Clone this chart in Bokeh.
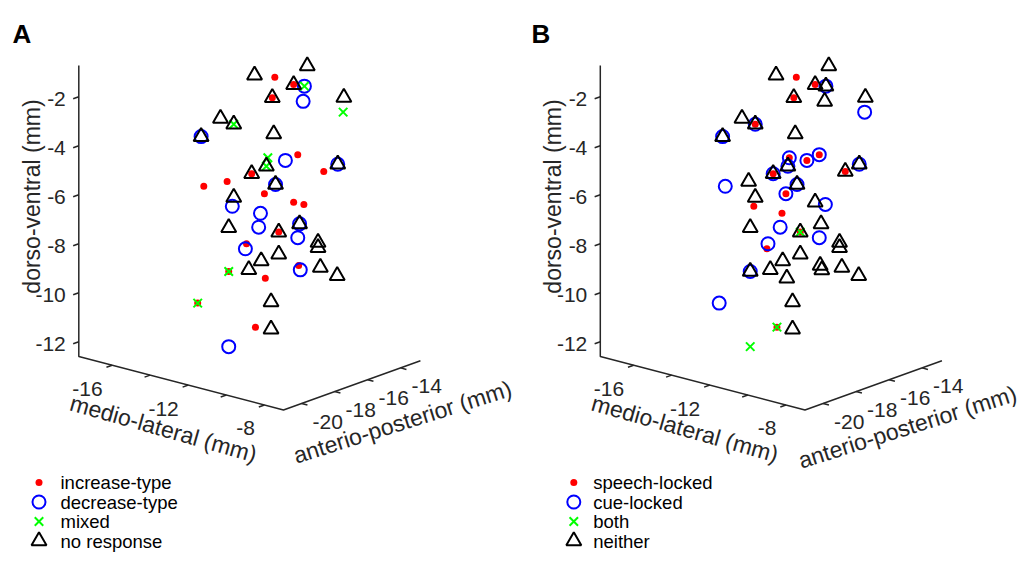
import numpy as np
from bokeh.plotting import figure
from bokeh.models import Range1d
from bokeh.embed import file_html
from bokeh.resources import INLINE
from bokeh.core.properties import value

# ---------------- data: electrode locations (mm) ----------------
ML = [-12.22, -10.56, -10.99, -11.66, -9.41, -13.29, -12.87, -13.90, -11.62, -11.85,
      -12.31, -11.56, -9.60, -12.87, -13.03, -11.46, -10.80, -10.22, -10.22, -11.46,
      -12.01, -12.40, -10.15, -9.62, -11.70, -11.70, -11.58, -10.86, -10.04, -13.08,
      -13.82, -11.91, -10.99, -10.67, -12.47, -10.83, -13.03, -11.88, -14.01, -12.19,
      -10.65, -10.69, -11.25, -12.92, -12.03, -12.09, -10.86, -12.51, -10.78, -13.03,
      -9.43, -11.80]
AP = [-16.83, -15.55, -15.88, -16.40, -14.66, -17.66, -17.34, -18.13, -16.36, -16.54,
      -16.90, -16.32, -14.81, -17.34, -17.46, -16.24, -15.74, -15.29, -15.29, -16.24,
      -16.67, -16.97, -15.23, -14.82, -16.43, -16.43, -16.34, -15.78, -15.15, -17.50,
      -18.06, -16.59, -15.88, -15.63, -17.03, -15.76, -17.46, -16.57, -18.21, -16.81,
      -15.62, -15.65, -16.08, -17.37, -16.69, -16.73, -15.78, -17.05, -15.72, -17.46,
      -14.68, -16.51]
DV = [-1.03, -0.62, -1.39, -1.94, -1.89, -2.81, -3.04, -3.56, -3.42, -4.74,
      -5.05, -5.48, -4.62, -6.03, -7.26, -7.42, -7.07, -7.82, -8.03, -8.32,
      -8.60, -8.97, -8.84, -9.17, -10.27, -11.39, -1.10, -4.25, -4.92, -5.38,
      -5.59, -5.86, -6.19, -6.28, -7.91, -8.77, -9.05, -9.31, -10.36, -11.31,
      -1.45, -2.07, -4.49, -6.39, -6.66, -7.23, -7.64, -8.12, -8.95, -12.12,
      -2.49, -4.39]

# panel A categories (1-based location numbers)
A_INCREASE = [27, 3, 4, 28, 29, 11, 30, 31, 32, 33, 34, 16, 35, 36, 37, 38, 39, 40]
A_DECREASE = [41, 42, 8, 43, 13, 12, 44, 45, 46, 17, 47, 48, 49, 50]
A_MIXED = [41, 51, 7, 52, 10, 37, 39]
A_NONE = [1, 2, 3, 4, 5, 6, 7, 8, 9, 10, 11, 12, 13, 14, 15, 16, 17, 18, 19, 20,
          21, 22, 23, 24, 25, 26]
# panel B categories
B_SPEECH = [27, 3, 4, 7, 52, 43, 28, 11, 29, 32, 44, 45, 16, 48, 40]
B_CUE = [41, 51, 7, 8, 52, 43, 28, 10, 11, 13, 12, 31, 32, 34, 46, 47, 35, 37, 39]
B_BOTH = [16, 40, 50]
B_NEITHER = [1, 2, 3, 41, 4, 42, 5, 6, 7, 8, 9, 10, 11, 13, 29, 30, 12, 14, 33, 15,
             17, 16, 18, 19, 20, 21, 22, 37, 36, 49, 23, 24, 38, 25, 26]

A_LABELS = ["increase-type", "decrease-type", "mixed", "no response"]
B_LABELS = ["speech-locked", "cue-locked", "both", "neither"]

ML_LIM = (-17.75, -7.0)
AP_LIM = (-21.1, -12.8)
DV_LIM = (-12.6, -0.72)
DV_TICKS = [-12, -10, -8, -6, -4, -2]
ML_TICKS = [-16, -14, -12, -10, -8]
ML_TICKLABELS = {-16: "-16", -12: "-12", -8: "-8"}
AP_TICKS = [-20, -18, -16, -14]

# ---------------- view (orthographic projection) ----------------
X0, Y0 = 78.3, 356.0
KX_ML, KY_ML = 19.04, 4.97
KX_AP, KY_AP = 16.5, 5.92
K_DV = 24.5
PANEL_DX = [0.0, 521.5]

AXC = "#262626"
FONT = value("Liberation Sans")


def project(ml, ap, dv, dx):
    ml = np.asarray(ml, float); ap = np.asarray(ap, float); dv = np.asarray(dv, float)
    x = X0 + dx + (ml - ML_LIM[0]) * KX_ML + (ap - AP_LIM[0]) * KX_AP
    y = Y0 + (ml - ML_LIM[0]) * KY_ML - (ap - AP_LIM[0]) * KY_AP - (dv - DV_LIM[0]) * K_DV
    return x, y


p = figure(width=1020, height=552, x_range=Range1d(0, 1020), y_range=Range1d(552, 0),
           output_backend="svg", toolbar_location=None, min_border=0,
           x_axis_location=None, y_axis_location=None)
p.grid.visible = False
p.outline_line_color = None
p.background_fill_color = "white"
p.border_fill_color = "white"

ml_arr = np.array(ML); ap_arr = np.array(AP); dv_arr = np.array(DV)

TICK_LEN = 6.0
ap_dir = np.array([KX_AP, -KY_AP]); ap_dir = ap_dir / np.hypot(*ap_dir)
ml_dir = np.array([KX_ML, KY_ML]); ml_dir = ml_dir / np.hypot(*ml_dir)


def draw_panel(dx, groups, labels, letter, letter_x, leg_mx, leg_tx, ap_title_pos):
    # axis lines
    cx, cy = project([ML_LIM[0], ML_LIM[0], ML_LIM[1], ML_LIM[1]],
                     [AP_LIM[0], AP_LIM[0], AP_LIM[0], AP_LIM[1]],
                     [DV_LIM[1], DV_LIM[0], DV_LIM[0], DV_LIM[0]], dx)
    p.line(list(cx), list(cy), line_color=AXC, line_width=1.5)

    # dv ticks (outward, -AP direction)
    tx, ty = project([ML_LIM[0]] * len(DV_TICKS), [AP_LIM[0]] * len(DV_TICKS), DV_TICKS, dx)
    p.segment(tx, ty, tx - ap_dir[0] * TICK_LEN, ty - ap_dir[1] * TICK_LEN,
              line_color=AXC, line_width=1.5)
    p.text(tx - 13, ty + 2, text=[str(t) for t in DV_TICKS], text_font=FONT,
           text_font_size=value("21px"), text_color=AXC, text_align="right",
           text_baseline="middle")

    # ml ticks
    mx, my = project(ML_TICKS, [AP_LIM[0]] * len(ML_TICKS), [DV_LIM[0]] * len(ML_TICKS), dx)
    p.segment(mx, my, mx - ap_dir[0] * TICK_LEN, my - ap_dir[1] * TICK_LEN,
              line_color=AXC, line_width=1.5)
    lab_idx = [i for i, t in enumerate(ML_TICKS) if t in ML_TICKLABELS]
    p.text(mx[lab_idx] - 9.5, my[lab_idx] + 23.5,
           text=[ML_TICKLABELS[ML_TICKS[i]] for i in lab_idx], text_font=FONT,
           text_font_size=value("21px"), text_color=AXC, text_align="right",
           text_baseline="middle")

    # ap ticks
    ax_, ay_ = project([ML_LIM[1]] * len(AP_TICKS), AP_TICKS, [DV_LIM[0]] * len(AP_TICKS), dx)
    p.segment(ax_, ay_, ax_ + ml_dir[0] * TICK_LEN, ay_ + ml_dir[1] * TICK_LEN,
              line_color=AXC, line_width=1.5)
    p.text(ax_ + 26, ay_ + 18.5, text=[str(t) for t in AP_TICKS], text_font=FONT,
           text_font_size=value("21px"), text_color=AXC, text_align="center",
           text_baseline="middle")

    # axis titles
    p.text([31 + dx], [196], text=["dorso-ventral (mm)"], angle=np.pi / 2, text_font=FONT,
           text_font_size=value("23px"), text_color=AXC, text_align="center",
           text_baseline="middle")
    p.text([163 + dx], [428], text=["medio-lateral (mm)"], angle=-np.deg2rad(15.8),
           text_font=FONT, text_font_size=value("23px"), text_color=AXC,
           text_align="center", text_baseline="middle")
    p.text([ap_title_pos[0]], [ap_title_pos[1]], text=["anterio-posterior (mm)"],
           angle=np.deg2rad(17.5), text_font=FONT, text_font_size=value("23px"),
           text_color=AXC, text_align="center", text_baseline="middle")

    # panel letter
    p.text([letter_x], [33], text=[letter], text_font=FONT, text_font_size=value("26px"),
           text_font_style="bold", text_color="black", text_align="left",
           text_baseline="alphabetic")

    red, blue, green, black = groups
    styles = [
        dict(marker="circle", size=7, fill_color="#ff0000", line_color=None),
        dict(marker="circle", size=13, fill_color=None, line_color="#0000ff", line_width=2),
        dict(marker="x", size=12, line_color="#00ff00", line_width=2),
        dict(marker="triangle", size=15, fill_color=None, line_color="black", line_width=2),
    ]
    for idx, st in zip([red, blue, green, black], styles):
        ii = np.array(idx) - 1
        x, y = project(ml_arr[ii], ap_arr[ii], dv_arr[ii], dx)
        p.scatter(x, y, **st)

    # legend
    rows = [482, 501.5, 521, 540.5]
    for r, st in zip(rows, styles):
        p.scatter([leg_mx], [r], **st)
    p.text([leg_tx] * 4, rows, text=labels, text_font=FONT, text_font_size=value("18.5px"),
           text_color="black", text_align="left", text_baseline="middle")


draw_panel(PANEL_DX[0], (A_INCREASE, A_DECREASE, A_MIXED, A_NONE), A_LABELS, "A", 12,
           38.5, 60, (402, 421.5))
draw_panel(PANEL_DX[1], (B_SPEECH, B_CUE, B_BOTH, B_NEITHER), B_LABELS, "B", 531,
           573.3, 592.7, (907, 426.5))

open("out.html", "w").write(file_html(p, INLINE))
